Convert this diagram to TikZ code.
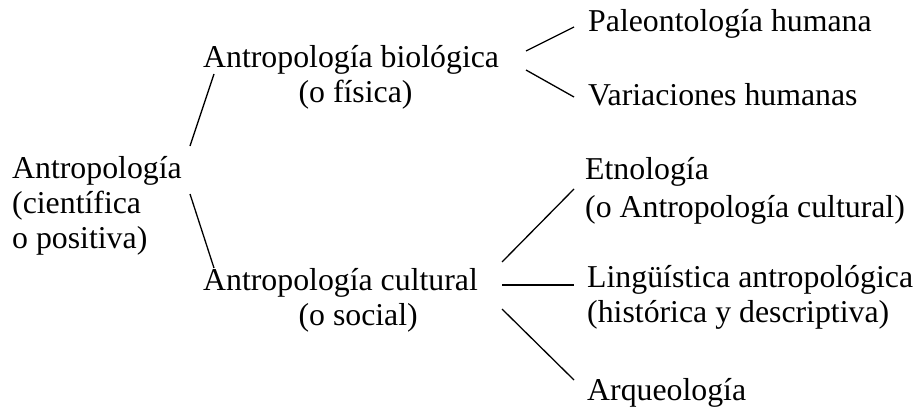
\documentclass[tikz,border=0pt]{standalone}
\usepackage{fontspec}
\setmainfont{Liberation Serif}
\begin{document}
\begin{tikzpicture}[x=1pt,y=-1pt]
		\tikzset{txtstyle/.style={inner sep=0pt, anchor=base west, align=left, font=\fontsize{31.8}{35}\selectfont}}
		\tikzset{linkstyle/.style={line width=1.3pt}}
		\useasboundingbox (0,0) rectangle (920,412);
		
		% multi-line nodes sit on the baseline of their last line
		\node[txtstyle] (antro) at (12,248) {Antropología\\(científica\\o positiva)};
		\node[txtstyle] (bio) at (203,102) {Antropología biológica\\\hspace*{3em}(o física)};
		\node[txtstyle] (cult) at (203,325) {Antropología cultural\\\hspace*{3em}(o social)};
		\node[txtstyle] (paleo) at (588,32) {Paleontología humana};
		\node[txtstyle] (varia) at (588,105) {Variaciones humanas};
		\node[txtstyle] (etno) at (585,217) {Etnología\\[3pt](o Antropología cultural)};
		\node[txtstyle] (ling) at (587,322) {Lingüística antropológica\\(histórica y descriptiva)};
		\node[txtstyle] (arqueo) at (587,400) {Arqueología};
		
		\draw[linkstyle] ([shift={(178,-102)}]antro.base west) -- ([shift={(11,-28)}]bio.base west);
		\draw[linkstyle] ([shift={(178,-54)}]antro.base west) -- ([shift={(11,-57)}]cult.base west);
		\draw[linkstyle] ([shift={(323,-51)}]bio.base west) -- ([shift={(-14,-5)}]paleo.base west);
		\draw[linkstyle] ([shift={(323,-32)}]bio.base west) -- ([shift={(-14,-8)}]varia.base west);
		\draw[linkstyle] ([shift={(299,-63)}]cult.base west) -- ([shift={(-11,-28)}]etno.base west);
		\draw[linkstyle] ([shift={(299,-40)}]cult.base west) -- ([shift={(-13,-37)}]ling.base west);
		\draw[linkstyle] ([shift={(299,-16)}]cult.base west) -- ([shift={(-13,-20)}]arqueo.base west);
		
\end{tikzpicture}
\end{document}
